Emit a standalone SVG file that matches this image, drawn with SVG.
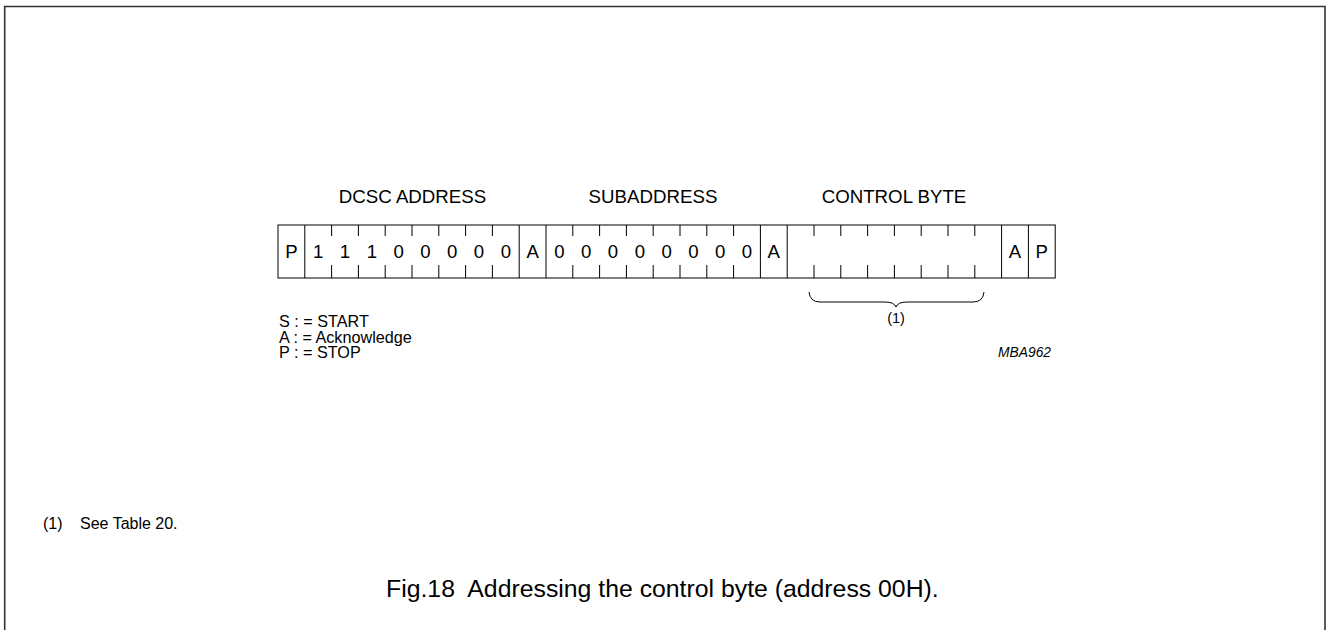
<svg xmlns="http://www.w3.org/2000/svg" width="1326" height="630" viewBox="0 0 1326 630">
<style>
  text { font-family: "Liberation Sans", Arial, sans-serif; fill: #000; }
  .hdr { font-size: 18.7px; text-anchor: middle; }
  .bit { font-size: 18.6px; text-anchor: middle; }
  .leg { font-size: 16.2px; }
  .small { font-size: 14.5px; text-anchor: middle; }
  .code { font-size: 13.8px; font-style: italic; text-anchor: end; }
  .note { font-size: 16px; }
  .cap { font-size: 24.8px; }
  .ln { stroke: #000; stroke-width: 1; fill: none; }
</style>
<rect x="0" y="0" width="1326" height="630" fill="#fff"/>
<path d="M4.7,630 V6.5 H1325 V630" fill="none" stroke="#333" stroke-width="1.6"/>

<g id="headers">
  <text class="hdr" x="412.5" y="203">DCSC ADDRESS</text>
  <text class="hdr" x="653" y="203">SUBADDRESS</text>
  <text class="hdr" x="894" y="203">CONTROL BYTE</text>
</g>

<g id="bit-row">
  <rect class="ln" x="278" y="225" width="777.2" height="53"/>
  <path class="ln" d="M304.8,225V278 M519.2,225V278 M546,225V278 M760.4,225V278 M787.2,225V278 M1001.6,225V278 M1028.4,225V278"/>
</g>

<g id="connectors">
  <path class="ln" d="M331.6,225v11M358.4,225v11M385.2,225v11M412,225v11M438.8,225v11M465.6,225v11M492.4,225v11
    M572.8,225v11M599.6,225v11M626.4,225v11M653.2,225v11M680,225v11M706.8,225v11M733.6,225v11
    M814,225v11M840.8,225v11M867.6,225v11M894.4,225v11M921.2,225v11M948,225v11M974.8,225v11"/>
  <path class="ln" d="M331.6,265v13M358.4,265v13M385.2,265v13M412,265v13M438.8,265v13M465.6,265v13M492.4,265v13
    M572.8,265v13M599.6,265v13M626.4,265v13M653.2,265v13M680,265v13M706.8,265v13M733.6,265v13
    M814,265v13M840.8,265v13M867.6,265v13M894.4,265v13M921.2,265v13M948,265v13M974.8,265v13"/>
  <path id="brace" class="ln" d="M809,292 Q810,302 820,302 H885 Q894,302 896,307 Q898,302 907,302 H973 Q983,302 984,292"/>
</g>

<g id="bits">
  <text class="bit" x="291.4" y="258">P</text>
  <text class="bit" x="318.2" y="258">1</text>
  <text class="bit" x="345" y="258">1</text>
  <text class="bit" x="371.8" y="258">1</text>
  <text class="bit" x="398.6" y="258">0</text>
  <text class="bit" x="425.4" y="258">0</text>
  <text class="bit" x="452.2" y="258">0</text>
  <text class="bit" x="479" y="258">0</text>
  <text class="bit" x="505.8" y="258">0</text>
  <text class="bit" x="532.6" y="258">A</text>
  <text class="bit" x="559.4" y="258">0</text>
  <text class="bit" x="586.2" y="258">0</text>
  <text class="bit" x="613" y="258">0</text>
  <text class="bit" x="639.8" y="258">0</text>
  <text class="bit" x="666.6" y="258">0</text>
  <text class="bit" x="693.4" y="258">0</text>
  <text class="bit" x="720.2" y="258">0</text>
  <text class="bit" x="747" y="258">0</text>
  <text class="bit" x="773.8" y="258">A</text>
  <text class="bit" x="1015" y="258">A</text>
  <text class="bit" x="1041.8" y="258">P</text>
</g>

<g id="brace-label">
  <text class="small" x="896" y="323">(1)</text>
</g>

<g id="legend">
  <text class="leg" x="279" y="327">S : = START</text>
  <text class="leg" x="279" y="342.5">A : = Acknowledge</text>
  <text class="leg" x="279" y="358">P : = STOP</text>
</g>

<g id="code">
  <text class="code" x="1051" y="357">MBA962</text>
</g>

<g id="footnote">
  <text class="note" x="43" y="529">(1)</text>
  <text class="note" x="80" y="529">See Table 20.</text>
</g>

<g id="caption">
  <text class="cap" x="386" y="597">Fig.18&#160; Addressing the control byte (address 00H).</text>
</g>
</svg>
